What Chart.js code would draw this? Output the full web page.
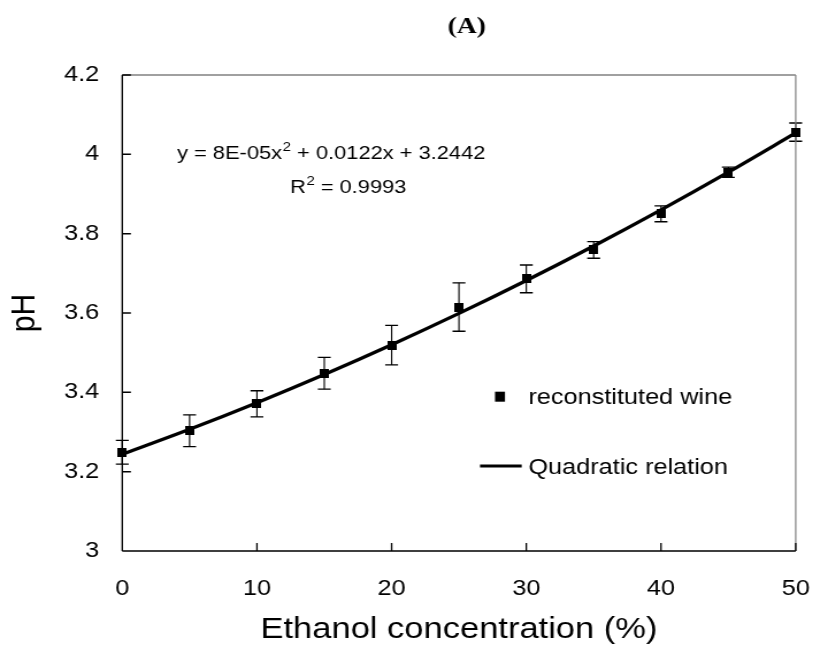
<!DOCTYPE html>
<html>
<head>
<meta charset="utf-8">
<script src="https://cdn.jsdelivr.net/npm/chart.js@4.4.1/dist/chart.umd.min.js"></script>
<style>
  html, body { margin: 0; padding: 0; background: #fff; overflow: hidden; }
  /* the original figure is stretched sideways, so the canvas is too */
  #chart { display: block; transform: scaleX(1.15); transform-origin: 0 0; }
</style>
</head>
<body>
<canvas id="chart" width="707" height="651"></canvas>
<script>
// data
const ethanol = [0, 5, 10, 15, 20, 25, 30, 35, 40, 45, 50];
const phMean = [3.249, 3.303, 3.371, 3.448, 3.519, 3.615, 3.686, 3.759, 3.850, 3.955, 4.056];
const phErr = [0.030, 0.040, 0.033, 0.040, 0.050, 0.061, 0.035, 0.021, 0.020, 0.013, 0.023];
const fitPh = [3.244, 3.307, 3.374, 3.445, 3.520, 3.599, 3.682, 3.769, 3.860, 3.955, 4.054];

const seriesNames = ['reconstituted wine', 'Quadratic relation'];
const panelLabel = '(A)';
const eqLine1 = ['y = 8E-05x', '2', ' + 0.0122x + 3.2442'];
const eqLine2 = ['R', '2', ' = 0.9993'];

const SX = 1.15;
const FONT = '"Liberation Sans", Arial, sans-serif';

// square marker that stays square after the sideways stretch
const marker = document.createElement('canvas');
marker.width = 8; marker.height = 9;
const mctx = marker.getContext('2d');
mctx.fillStyle = '#000';
mctx.fillRect(0, 0, 8, 9);

const extras = {
    id: 'extras',
    beforeDatasetsDraw(chart) {
        const { ctx, chartArea: a, scales: { x, y } } = chart;
        ctx.save();
        // error bars
        ctx.strokeStyle = '#000';
        ethanol.forEach((e, i) => {
            const px = x.getPixelForValue(e);
            const top = y.getPixelForValue(phMean[i] + phErr[i]);
            const bot = y.getPixelForValue(phMean[i] - phErr[i]);
            ctx.lineWidth = 1.3 / SX;
            ctx.beginPath();
            ctx.moveTo(px, top); ctx.lineTo(px, bot);
            ctx.stroke();
            ctx.lineWidth = 1.3;
            ctx.beginPath();
            ctx.moveTo(px - 5.6, top); ctx.lineTo(px + 5.6, top);
            ctx.moveTo(px - 5.6, bot); ctx.lineTo(px + 5.6, bot);
            ctx.stroke();
        });
        // plot frame
        ctx.strokeStyle = '#808080';
        ctx.lineWidth = 1.4;
        ctx.beginPath();
        ctx.moveTo(a.left, a.top); ctx.lineTo(a.right, a.top);
        ctx.stroke();
        ctx.lineWidth = 1.4 / SX;
        ctx.beginPath();
        ctx.moveTo(a.right, a.top); ctx.lineTo(a.right, a.bottom);
        ctx.stroke();
        ctx.strokeStyle = '#000';
        ctx.lineWidth = 1.5;
        ctx.beginPath();
        ctx.moveTo(a.left, a.bottom); ctx.lineTo(a.right, a.bottom);
        y.ticks.forEach(t => {
            const py = y.getPixelForValue(t.value);
            ctx.moveTo(a.left, py); ctx.lineTo(a.left + 7.5, py);
        });
        ctx.stroke();
        ctx.lineWidth = 1.5 / SX;
        ctx.beginPath();
        ctx.moveTo(a.left, a.top); ctx.lineTo(a.left, a.bottom);
        x.ticks.forEach(t => {
            const px = x.getPixelForValue(t.value);
            ctx.moveTo(px, a.bottom); ctx.lineTo(px, a.bottom - 8);
        });
        ctx.stroke();
        ctx.restore();
    },
    afterDraw(chart) {
        const { ctx } = chart;
        ctx.save();
        ctx.fillStyle = '#000';
        ctx.textBaseline = 'alphabetic';

        ctx.font = 'bold 24px "Liberation Serif", "Times New Roman", serif';
        ctx.textAlign = 'center';
        ctx.fillText(panelLabel, 466.7 / SX, 33);

        ctx.textAlign = 'left';
        drawSup(ctx, eqLine1, 177 / SX, 159);
        drawSup(ctx, eqLine2, 290 / SX, 193);

        // legend
        ctx.fillRect(500 / SX - 4.35, 396.7 - 5, 8.7, 10);
        ctx.font = '22px ' + FONT;
        ctx.fillText(seriesNames[0], 528.3 / SX, 404);
        ctx.strokeStyle = '#000';
        ctx.lineWidth = 3;
        ctx.beginPath();
        ctx.moveTo(480 / SX, 466); ctx.lineTo(521.7 / SX, 466);
        ctx.stroke();
        ctx.fillText(seriesNames[1], 528.3 / SX, 474);
        ctx.restore();
    }
};

function drawSup(ctx, parts, x, y) {
    ctx.font = '19px ' + FONT;
    ctx.fillText(parts[0], x, y);
    x += ctx.measureText(parts[0]).width;
    ctx.font = '13px ' + FONT;
    ctx.fillText(parts[1], x + 0.5, y - 8);
    x += ctx.measureText(parts[1]).width + 0.5;
    ctx.font = '19px ' + FONT;
    ctx.fillText(parts[2], x, y);
}

new Chart(document.getElementById('chart').getContext('2d'), {
    type: 'line',
    data: {
        datasets: [
            {
                label: seriesNames[0],
                data: ethanol.map((e, i) => ({ x: e, y: phMean[i] })),
                showLine: false,
                pointStyle: marker,
                pointRadius: 5,
                clip: false,
                order: 0
            },
            {
                label: seriesNames[1],
                data: ethanol.map((e, i) => ({ x: e, y: fitPh[i] })),
                borderColor: '#000',
                borderWidth: 3.3,
                pointRadius: 0,
                cubicInterpolationMode: 'monotone',
                clip: false,
                order: 1
            }
        ]
    },
    options: {
        responsive: false,
        animation: false,
        devicePixelRatio: 1,
        layout: { padding: { top: 75, right: 15.1, bottom: 0, left: 0 } },
        plugins: { legend: { display: false }, tooltip: { enabled: false } },
        scales: {
            x: {
                type: 'linear',
                min: 0, max: 50,
                afterFit: s => { s.height = 100; s.paddingLeft = 0; s.paddingRight = 0; },
                grid: { drawOnChartArea: false, drawTicks: false },
                border: { display: false },
                ticks: { stepSize: 10, padding: 25, color: '#000', font: { family: FONT, size: 22 }, maxRotation: 0 },
                title: { display: true, text: 'Ethanol concentration (%)', color: '#000', font: { family: FONT, size: 30 }, padding: { top: 0, bottom: 3 } }
            },
            y: {
                type: 'linear',
                min: 3, max: 4.2,
                afterFit: s => { s.width = 106.3; s.paddingTop = 0; s.paddingBottom = 0; },
                grid: { drawOnChartArea: false, drawTicks: false },
                border: { display: false },
                ticks: { stepSize: 0.2, padding: 20, color: '#000', font: { family: FONT, size: 22 }, callback: v => String(+v.toFixed(1)) },
                title: { display: true, text: 'pH', color: '#000', font: { family: FONT, size: 30 }, padding: { top: 4, bottom: 0 } }
            }
        }
    },
    plugins: [extras]
});
</script>
</body>
</html>
